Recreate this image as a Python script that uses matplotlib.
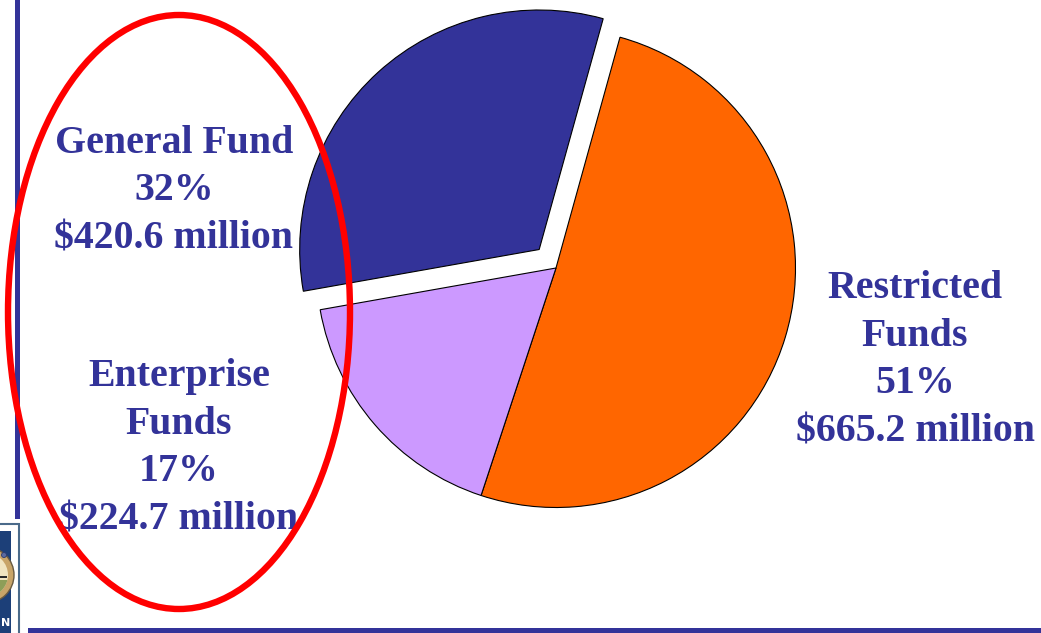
import matplotlib
matplotlib.use("Agg")
import matplotlib.pyplot as plt
from matplotlib.patches import Ellipse, Rectangle, Wedge, Circle
import numpy as np

categories = ["Restricted Funds", "Enterprise Funds", "General Fund"]
values = [665.2, 224.7, 420.6]
colors = ["#FF6600", "#CC99FF", "#333399"]
explode_px = [0, 0, 25]
labels = ["Restricted\nFunds\n51%\n$665.2 million", "Enterprise\nFunds\n17%\n$224.7 million", "General Fund\n32%\n$420.6 million"]
label_xy = [(915, 360), (179, 448), (174, 191)]

W, H = 1041, 633
fig = plt.figure(figsize=(W/100, H/100), dpi=100, facecolor="white")
ax = fig.add_axes([0, 0, 1, 1])
ax.set_xlim(0, W); ax.set_ylim(H, 0); ax.axis("off"); ax.set_aspect("equal")

cx, cy, r = 556, 268, 239.5
start = -74.5
total = sum(values)
a = start
for v, c, e in zip(values, colors, explode_px):
    sweep = v / total * 360
    mid = np.radians(a + sweep / 2)
    ox = cx + e * np.cos(mid)
    oy = cy + e * np.sin(mid)
    ax.add_patch(Wedge((ox, oy), r, a, a + sweep, facecolor=c, edgecolor="black", lw=0.8, zorder=2))
    a += sweep

for t, (x, y) in zip(labels, label_xy):
    ax.text(x, y, t, ha="center", va="center", color="#333399", fontsize=28.7,
            family="Liberation Serif", fontweight="bold", linespacing=1.385, zorder=4)

ax.add_patch(Ellipse((179, 312), 342, 594, fill=False, edgecolor="#FF0000", lw=4.6, zorder=5))
ax.add_patch(Rectangle((15, 0), 5, 519, facecolor="#333399", zorder=1))
ax.add_patch(Rectangle((28, 628), 1013, 5, facecolor="#333399", zorder=1))

# seal fragment at the lower left edge
ax.add_patch(Rectangle((-3, 524), 22, 112, facecolor="white", edgecolor="#4A6A8A", lw=1.5, zorder=1))
ax.add_patch(Rectangle((-2, 531), 13, 102, facecolor="#1C3F78", zorder=2))
seal = Circle((-14, 575), 28, facecolor="#C8A468", edgecolor="#6A5A40", lw=1, zorder=3)
ax.add_patch(seal)
inner = Circle((-14, 575), 22, facecolor="#F0E4C0", zorder=3.1)
ax.add_patch(inner)
ground = Rectangle((-2, 580), 10, 14, facecolor="#8E9E58", zorder=3.2)
ax.add_patch(ground)
ground.set_clip_path(inner)
ax.add_patch(Rectangle((-2, 576), 9, 2, facecolor="#2A2A2A", zorder=3.3))
ax.add_patch(Circle((4, 555), 2.5, facecolor="#5A6AA0", edgecolor="#2A3A70", lw=0.6, zorder=4))
ax.text(5.5, 623, "N", color="white", fontsize=8, fontweight="bold", ha="center", va="center", zorder=4)
fig.savefig("out.png", dpi=100)
